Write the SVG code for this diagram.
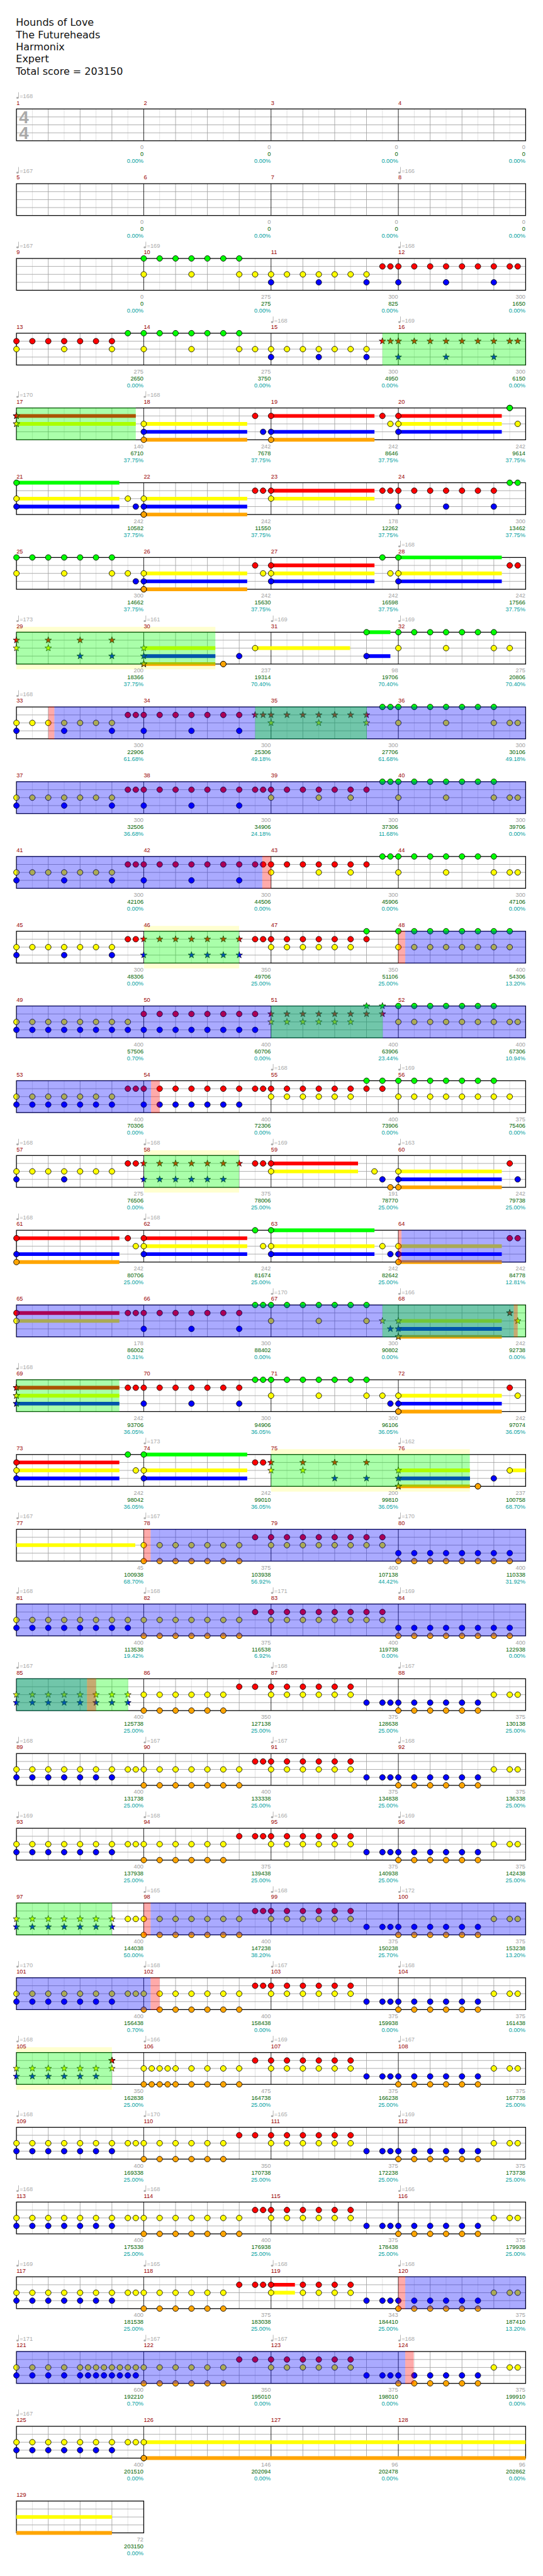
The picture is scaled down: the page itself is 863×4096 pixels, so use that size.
<svg xmlns="http://www.w3.org/2000/svg" width="863" height="4096" viewBox="0 0 863 4096">
<defs>
<style>
.tt{font-family:"DejaVu Sans",sans-serif;font-size:19px;fill:#111}
.mn{font-family:"Liberation Sans",Arial,sans-serif;font-size:11px;fill:#900}
.tp{font-family:"Liberation Sans",Arial,sans-serif;font-size:11px;fill:#aaa}
.s1,.s2,.s3{font-family:"Liberation Sans",Arial,sans-serif;font-size:11px;text-anchor:end}
.s1{fill:#a0a0a0}.s2{fill:#006400}.s3{fill:#00a0a0}
.ts{font-family:"Liberation Sans",Arial,sans-serif;font-size:33px;font-weight:bold;fill:#aaa}
.gl{stroke:#ddd;fill:none}.gm{stroke:#a0a0a0;fill:none}.gk{stroke:#000;fill:none}
.bx{fill:none;stroke:#000;stroke-width:1.5}
.ng,.nr,.ny,.nb,.no,.kg,.kr,.ky,.kb,.ko{fill:none;stroke:none}
.ng{marker-start:url(#mg);marker-mid:url(#mg);marker-end:url(#mg)}
.nr{marker-start:url(#mr);marker-mid:url(#mr);marker-end:url(#mr)}
.ny{marker-start:url(#my);marker-mid:url(#my);marker-end:url(#my)}
.nb{marker-start:url(#mb);marker-mid:url(#mb);marker-end:url(#mb)}
.no{marker-start:url(#mo);marker-mid:url(#mo);marker-end:url(#mo)}
.kg{marker-start:url(#xg);marker-mid:url(#xg);marker-end:url(#xg)}
.kr{marker-start:url(#xr);marker-mid:url(#xr);marker-end:url(#xr)}
.ky{marker-start:url(#xy);marker-mid:url(#xy);marker-end:url(#xy)}
.kb{marker-start:url(#xb);marker-mid:url(#xb);marker-end:url(#xb)}
.ko{marker-start:url(#xo);marker-mid:url(#xo);marker-end:url(#xo)}
.ug,.ur,.uy,.ub,.uo{fill:none;stroke-width:7}
.ug{stroke:#0f0}.ur{stroke:#f00}.uy{stroke:#ff0}.ub{stroke:#00f}.uo{stroke:#ffa500}
.ps{fill:#0f0;fill-opacity:.333}.po{fill:#00f;fill-opacity:.333}.pp{fill:#f00;fill-opacity:.333}
.bn{fill:#ffffd0}
</style>
<path id="sp" d="M8 1.5L9.53 5.9L14.18 5.99L10.47 8.8L11.82 13.26L8 10.6L4.18 13.26L5.53 8.8L1.82 5.99L6.47 5.9Z"/>
<marker id="mg" markerUnits="userSpaceOnUse" markerWidth="16" markerHeight="16" refX="8" refY="8"><circle cx="8" cy="8" r="5.3" fill="#0f0" stroke="#000"/></marker>
<marker id="mr" markerUnits="userSpaceOnUse" markerWidth="16" markerHeight="16" refX="8" refY="8"><circle cx="8" cy="8" r="5.3" fill="#f00" stroke="#000"/></marker>
<marker id="my" markerUnits="userSpaceOnUse" markerWidth="16" markerHeight="16" refX="8" refY="8"><circle cx="8" cy="8" r="5.3" fill="#ff0" stroke="#000"/></marker>
<marker id="mb" markerUnits="userSpaceOnUse" markerWidth="16" markerHeight="16" refX="8" refY="8"><circle cx="8" cy="8" r="5.3" fill="#00f" stroke="#000"/></marker>
<marker id="mo" markerUnits="userSpaceOnUse" markerWidth="16" markerHeight="16" refX="8" refY="8"><circle cx="8" cy="8" r="5.3" fill="#ffa500" stroke="#000"/></marker>
<marker id="xg" markerUnits="userSpaceOnUse" markerWidth="16" markerHeight="16" refX="8" refY="8"><use href="#sp" fill="#0f0" stroke="#000" stroke-width=".8"/></marker>
<marker id="xr" markerUnits="userSpaceOnUse" markerWidth="16" markerHeight="16" refX="8" refY="8"><use href="#sp" fill="#f00" stroke="#000" stroke-width=".8"/></marker>
<marker id="xy" markerUnits="userSpaceOnUse" markerWidth="16" markerHeight="16" refX="8" refY="8"><use href="#sp" fill="#ff0" stroke="#000" stroke-width=".8"/></marker>
<marker id="xb" markerUnits="userSpaceOnUse" markerWidth="16" markerHeight="16" refX="8" refY="8"><use href="#sp" fill="#00f" stroke="#000" stroke-width=".8"/></marker>
<marker id="xo" markerUnits="userSpaceOnUse" markerWidth="16" markerHeight="16" refX="8" refY="8"><use href="#sp" fill="#ffa500" stroke="#000" stroke-width=".8"/></marker>
<g id="st4">
<path class="gl" d="M61 0v60M121 0v60M181 0v60M241 0v60M301 0v60M361 0v60M421 0v60M481 0v60M541 0v60M601 0v60M661 0v60M721 0v60M781 0v60M841 0v60M901 0v60M961 0v60"/>
<path class="gm" d="M31 15H991M31 30H991M31 45H991M91 0v60M151 0v60M211 0v60M331 0v60M391 0v60M451 0v60M571 0v60M631 0v60M691 0v60M811 0v60M871 0v60M931 0v60"/>
<path class="gk" d="M271 0v60M511 0v60M751 0v60"/>
<rect class="bx" x="31" y="0" width="960" height="60"/>
</g>
<g id="st1">
<path class="gl" d="M61 0v60M121 0v60M181 0v60M241 0v60"/>
<path class="gm" d="M31 15H271M31 30H271M31 45H271M91 0v60M151 0v60M211 0v60"/>
<rect class="bx" x="31" y="0" width="240" height="60"/>
</g>
<g id="q" fill="#aaa"><ellipse cx="2" cy="-21" rx="2.2" ry="1.8"/><rect x="3.5" y="-31.5" width="1" height="10.5"/></g>
</defs>
<rect width="863" height="4096" fill="#fff"/>
<g transform="scale(0.843)">
<g id="title">
<text class="tt" x="30" y="49">Hounds of Love</text>
<text class="tt" x="30" y="72">The Futureheads</text>
<text class="tt" x="30" y="95">Harmonix</text>
<text class="tt" x="30" y="118">Expert</text>
<text class="tt" x="30" y="141.5">Total score = 203150</text>
</g>

<g id="row1" transform="translate(0,205.5)">
<use href="#st4"/>
<text class="ts" x="36" y="26.8">4</text><text class="ts" x="36" y="56.8">4</text>
<text class="mn" y="-8"><tspan x="31">1</tspan><tspan x="271">2</tspan><tspan x="511">3</tspan><tspan x="751">4</tspan></text>
<use href="#q" x="31"/><text class="tp" y="-20.5"><tspan x="37">=168</tspan></text>
<text class="s1" y="76"><tspan x="270.5">0</tspan><tspan x="510.5">0</tspan><tspan x="750.5">0</tspan><tspan x="990.5">0</tspan></text>
<text class="s2" y="89"><tspan x="270.5">0</tspan><tspan x="510.5">0</tspan><tspan x="750.5">0</tspan><tspan x="990.5">0</tspan></text>
<text class="s3" y="102"><tspan x="270.5">0.00%</tspan><tspan x="510.5">0.00%</tspan><tspan x="750.5">0.00%</tspan><tspan x="990.5">0.00%</tspan></text>
</g>

<g id="row2" transform="translate(0,346.5)">
<use href="#st4"/>
<text class="mn" y="-8"><tspan x="31">5</tspan><tspan x="271">6</tspan><tspan x="511">7</tspan><tspan x="751">8</tspan></text>
<use href="#q" x="31"/><use href="#q" x="751"/><text class="tp" y="-20.5"><tspan x="37">=167</tspan><tspan x="757">=166</tspan></text>
<text class="s1" y="76"><tspan x="270.5">0</tspan><tspan x="510.5">0</tspan><tspan x="750.5">0</tspan><tspan x="990.5">0</tspan></text>
<text class="s2" y="89"><tspan x="270.5">0</tspan><tspan x="510.5">0</tspan><tspan x="750.5">0</tspan><tspan x="990.5">0</tspan></text>
<text class="s3" y="102"><tspan x="270.5">0.00%</tspan><tspan x="510.5">0.00%</tspan><tspan x="750.5">0.00%</tspan><tspan x="990.5">0.00%</tspan></text>
</g>

<g id="row3" transform="translate(0,487.5)">
<use href="#st4"/>
<path class="ng" d="M271 0H301H331H361H391H421H451"/>
<path class="nr" d="M721 15H736H751H781H811H841H871H901H931H961H976"/>
<path class="ny" d="M271 30H361H451H481H511H541H571H601H631H661H691"/>
<path class="nb" d="M511 45H601H691H751H841H931"/>
<text class="mn" y="-8"><tspan x="31">9</tspan><tspan x="271">10</tspan><tspan x="511">11</tspan><tspan x="751">12</tspan></text>
<use href="#q" x="31"/><use href="#q" x="271"/><use href="#q" x="751"/><text class="tp" y="-20.5"><tspan x="37">=167</tspan><tspan x="277">=169</tspan><tspan x="757">=168</tspan></text>
<text class="s1" y="76"><tspan x="270.5">0</tspan><tspan x="510.5">275</tspan><tspan x="750.5">300</tspan><tspan x="990.5">300</tspan></text>
<text class="s2" y="89"><tspan x="270.5">0</tspan><tspan x="510.5">275</tspan><tspan x="750.5">825</tspan><tspan x="990.5">1650</tspan></text>
<text class="s3" y="102"><tspan x="270.5">0.00%</tspan><tspan x="510.5">0.00%</tspan><tspan x="750.5">0.00%</tspan><tspan x="990.5">0.00%</tspan></text>
</g>

<g id="row4" transform="translate(0,628.5)">
<use href="#st4"/>
<path class="ng" d="M241 0H271H301H331H361H391H421H451"/>
<path class="nr" d="M31 15H61H91H121H151H181H211"/>
<path class="ny" d="M31 30H121H211H271H361H451H481H511H541H571H601H631H661H691"/>
<path class="nb" d="M511 45H601H691"/>
<path class="kr" d="M721 15H736H751H781H811H841H871H901H931H961H976"/>
<path class="kb" d="M751 45H841H931"/>
<rect class="ps" x="721" y="-0.75" width="270" height="61.5"/>
<text class="mn" y="-8"><tspan x="31">13</tspan><tspan x="271">14</tspan><tspan x="511">15</tspan><tspan x="751">16</tspan></text>
<use href="#q" x="511"/><use href="#q" x="751"/><text class="tp" y="-20.5"><tspan x="517">=168</tspan><tspan x="757">=169</tspan></text>
<text class="s1" y="76"><tspan x="270.5">275</tspan><tspan x="510.5">275</tspan><tspan x="750.5">300</tspan><tspan x="990.5">300</tspan></text>
<text class="s2" y="89"><tspan x="270.5">2650</tspan><tspan x="510.5">3750</tspan><tspan x="750.5">4950</tspan><tspan x="990.5">6150</tspan></text>
<text class="s3" y="102"><tspan x="270.5">0.00%</tspan><tspan x="510.5">0.00%</tspan><tspan x="750.5">0.00%</tspan><tspan x="990.5">0.00%</tspan></text>
</g>

<g id="row5" transform="translate(0,769.5)">
<use href="#st4"/>
<path class="ur" d="M31 15H256M511 15H706M751 15H946"/>
<path class="uy" d="M31 30H256M271 30H466M751 30H946"/>
<path class="ub" d="M271 45H466M511 45H706M751 45H946"/>
<path class="uo" d="M271 60H466M511 60H706"/>
<path class="kr" d="M31 15h0"/><path class="ky" d="M31 30h0"/>
<path class="ng" d="M961 0h0"/>
<path class="nr" d="M481 15H511H721H751"/>
<path class="ny" d="M271 30H736H751H976"/>
<path class="nb" d="M271 45H496H511H751"/>
<path class="no" d="M271 60H511"/>
<rect class="ps" x="31" y="-0.75" width="225" height="61.5"/>
<text class="mn" y="-8"><tspan x="31">17</tspan><tspan x="271">18</tspan><tspan x="511">19</tspan><tspan x="751">20</tspan></text>
<use href="#q" x="31"/><use href="#q" x="271"/><text class="tp" y="-20.5"><tspan x="37">=170</tspan><tspan x="277">=168</tspan></text>
<text class="s1" y="76"><tspan x="270.5">140</tspan><tspan x="510.5">242</tspan><tspan x="750.5">242</tspan><tspan x="990.5">242</tspan></text>
<text class="s2" y="89"><tspan x="270.5">6710</tspan><tspan x="510.5">7678</tspan><tspan x="750.5">8646</tspan><tspan x="990.5">9614</tspan></text>
<text class="s3" y="102"><tspan x="270.5">37.75%</tspan><tspan x="510.5">37.75%</tspan><tspan x="750.5">37.75%</tspan><tspan x="990.5">37.75%</tspan></text>
</g>

<g id="row6" transform="translate(0,910.5)">
<use href="#st4"/>
<path class="ug" d="M31 0H225"/>
<path class="ur" d="M511 15H706"/>
<path class="uy" d="M31 30H225M271 30H466M511 30H706"/>
<path class="ub" d="M31 45H225M271 45H466"/>
<path class="uo" d="M271 60H466"/>
<path class="ng" d="M31 0H961H976"/>
<path class="nr" d="M481 15H496H511H721H736H751H781H811H841H871H901H931"/>
<path class="ny" d="M31 30H241H271H511"/>
<path class="nb" d="M31 45H256H271H751H841H931"/>
<path class="no" d="M271 60h0"/>
<text class="mn" y="-8"><tspan x="31">21</tspan><tspan x="271">22</tspan><tspan x="511">23</tspan><tspan x="751">24</tspan></text>
<text class="s1" y="76"><tspan x="270.5">242</tspan><tspan x="510.5">242</tspan><tspan x="750.5">178</tspan><tspan x="990.5">300</tspan></text>
<text class="s2" y="89"><tspan x="270.5">10582</tspan><tspan x="510.5">11550</tspan><tspan x="750.5">12262</tspan><tspan x="990.5">13462</tspan></text>
<text class="s3" y="102"><tspan x="270.5">37.75%</tspan><tspan x="510.5">37.75%</tspan><tspan x="750.5">37.75%</tspan><tspan x="990.5">37.75%</tspan></text>
</g>

<g id="row7" transform="translate(0,1051.5)">
<use href="#st4"/>
<path class="ug" d="M751 0H946"/>
<path class="ur" d="M511 15H706"/>
<path class="uy" d="M271 30H466M511 30H706M751 30H946"/>
<path class="ub" d="M271 45H466M511 45H706M751 45H946"/>
<path class="uo" d="M271 60H466"/>
<path class="ng" d="M31 0H61H91H121H151H181H211H721H751"/>
<path class="nr" d="M481 15H511H961H976"/>
<path class="ny" d="M31 30H121H211H241H271H496H511H736H751"/>
<path class="nb" d="M256 45H271H511H751"/>
<path class="no" d="M271 60h0"/>
<text class="mn" y="-8"><tspan x="31">25</tspan><tspan x="271">26</tspan><tspan x="511">27</tspan><tspan x="751">28</tspan></text>
<use href="#q" x="751"/><text class="tp" y="-20.5"><tspan x="757">=168</tspan></text>
<text class="s1" y="76"><tspan x="270.5">300</tspan><tspan x="510.5">242</tspan><tspan x="750.5">242</tspan><tspan x="990.5">242</tspan></text>
<text class="s2" y="89"><tspan x="270.5">14662</tspan><tspan x="510.5">15630</tspan><tspan x="750.5">16598</tspan><tspan x="990.5">17566</tspan></text>
<text class="s3" y="102"><tspan x="270.5">37.75%</tspan><tspan x="510.5">37.75%</tspan><tspan x="750.5">37.75%</tspan><tspan x="990.5">37.75%</tspan></text>
</g>

<g id="row8" transform="translate(0,1192.5)">
<path class="bn" d="M31 -10h375v10h-375zM31 60h375v10h-375z"/>
<use href="#st4"/>
<path class="ug" d="M691 0H736"/>
<path class="uy" d="M271 30H406M481 30H660"/>
<path class="ub" d="M271 45H406M691 45H736"/>
<path class="uo" d="M271 60H406"/>
<path class="kr" d="M31 15H91H151H211"/>
<path class="ky" d="M31 30H91H271"/>
<path class="kb" d="M151 45H211H271"/>
<path class="ko" d="M271 60h0"/>
<path class="ng" d="M691 0H751H781H811H841H871H901H931"/>
<path class="ny" d="M481 30H751H841H931H961"/>
<path class="nb" d="M451 45H691"/>
<path class="no" d="M421 60h0"/>
<rect class="ps" x="31" y="-0.75" width="375" height="61.5"/>
<text class="mn" y="-8"><tspan x="31">29</tspan><tspan x="271">30</tspan><tspan x="511">31</tspan><tspan x="751">32</tspan></text>
<use href="#q" x="31"/><use href="#q" x="271"/><use href="#q" x="511"/><use href="#q" x="751"/><text class="tp" y="-20.5"><tspan x="37">=173</tspan><tspan x="277">=161</tspan><tspan x="517">=169</tspan><tspan x="757">=169</tspan></text>
<text class="s1" y="76"><tspan x="270.5">200</tspan><tspan x="510.5">237</tspan><tspan x="750.5">98</tspan><tspan x="990.5">275</tspan></text>
<text class="s2" y="89"><tspan x="270.5">18366</tspan><tspan x="510.5">19314</tspan><tspan x="750.5">19706</tspan><tspan x="990.5">20806</tspan></text>
<text class="s3" y="102"><tspan x="270.5">37.75%</tspan><tspan x="510.5">70.40%</tspan><tspan x="750.5">70.40%</tspan><tspan x="990.5">70.40%</tspan></text>
</g>

<g id="row9" transform="translate(0,1333.5)">
<use href="#st4"/>
<path class="ng" d="M721 0H736H751H781H811H841H871H901H931"/>
<path class="nr" d="M241 15H256H271H301H331H361H391H421H451"/>
<path class="ny" d="M31 30H61H91H121H151H181H211H751H841H931H961H976"/>
<path class="nb" d="M31 45H121H211H271H361H451"/>
<path class="kr" d="M481 15H496H511H541H571H601H631H661H691"/>
<path class="ky" d="M511 30H601H691"/>
<rect class="pp" x="91.4" y="-0.75" width="11.1" height="61.5"/>
<rect class="po" x="102.5" y="-0.75" width="888.5" height="61.5"/>
<rect class="ps" x="481" y="-0.75" width="210.7" height="61.5"/>
<text class="mn" y="-8"><tspan x="31">33</tspan><tspan x="271">34</tspan><tspan x="511">35</tspan><tspan x="751">36</tspan></text>
<use href="#q" x="31"/><text class="tp" y="-20.5"><tspan x="37">=168</tspan></text>
<text class="s1" y="76"><tspan x="270.5">300</tspan><tspan x="510.5">300</tspan><tspan x="750.5">300</tspan><tspan x="990.5">300</tspan></text>
<text class="s2" y="89"><tspan x="270.5">22906</tspan><tspan x="510.5">25306</tspan><tspan x="750.5">27706</tspan><tspan x="990.5">30106</tspan></text>
<text class="s3" y="102"><tspan x="270.5">61.68%</tspan><tspan x="510.5">49.18%</tspan><tspan x="750.5">61.68%</tspan><tspan x="990.5">49.18%</tspan></text>
</g>

<g id="row10" transform="translate(0,1474.5)">
<use href="#st4"/>
<path class="ng" d="M721 0H736H751H781H811H841H871H901H931"/>
<path class="nr" d="M241 15H256H271H301H331H361H391H421H451H481H496H511H541H571H601H631H661H691"/>
<path class="ny" d="M31 30H61H91H121H151H181H211H511H601H661H751H841H931H961H976"/>
<path class="nb" d="M31 45H121H211H271H361H451"/>
<rect class="po" x="31" y="-0.75" width="960" height="61.5"/>
<text class="mn" y="-8"><tspan x="31">37</tspan><tspan x="271">38</tspan><tspan x="511">39</tspan><tspan x="751">40</tspan></text>
<text class="s1" y="76"><tspan x="270.5">300</tspan><tspan x="510.5">300</tspan><tspan x="750.5">300</tspan><tspan x="990.5">300</tspan></text>
<text class="s2" y="89"><tspan x="270.5">32506</tspan><tspan x="510.5">34906</tspan><tspan x="750.5">37306</tspan><tspan x="990.5">39706</tspan></text>
<text class="s3" y="102"><tspan x="270.5">36.68%</tspan><tspan x="510.5">24.18%</tspan><tspan x="750.5">11.68%</tspan><tspan x="990.5">0.00%</tspan></text>
</g>

<g id="row11" transform="translate(0,1615.5)">
<use href="#st4"/>
<path class="ng" d="M721 0H736H751H781H811H841H871H901H931"/>
<path class="nr" d="M241 15H256H271H301H331H361H391H421H451H481H496H511H541H571H601H631H661H691"/>
<path class="ny" d="M31 30H61H91H121H151H181H211H511H601H661H751H841H931H961H976"/>
<path class="nb" d="M31 45H121H211H271H361H451"/>
<rect class="po" x="31" y="-0.75" width="463.5" height="61.5"/>
<rect class="pp" x="494.5" y="-0.75" width="16.5" height="61.5"/>
<text class="mn" y="-8"><tspan x="31">41</tspan><tspan x="271">42</tspan><tspan x="511">43</tspan><tspan x="751">44</tspan></text>
<text class="s1" y="76"><tspan x="270.5">300</tspan><tspan x="510.5">300</tspan><tspan x="750.5">300</tspan><tspan x="990.5">300</tspan></text>
<text class="s2" y="89"><tspan x="270.5">42106</tspan><tspan x="510.5">44506</tspan><tspan x="750.5">45906</tspan><tspan x="990.5">47106</tspan></text>
<text class="s3" y="102"><tspan x="270.5">0.00%</tspan><tspan x="510.5">0.00%</tspan><tspan x="750.5">0.00%</tspan><tspan x="990.5">0.00%</tspan></text>
</g>

<g id="row12" transform="translate(0,1756.5)">
<path class="bn" d="M271.7 -10h179v10h-179zM271.7 60h179v10h-179z"/>
<use href="#st4"/>
<path class="ng" d="M691 0H751H781H811H841H871H901H931H961"/>
<path class="nr" d="M241 15H256H481H496H511H541H571H601H631H661H691"/>
<path class="ny" d="M31 30H61H91H121H151H181H211H511H541H571H601H631H661H751H781H811H841H871H901H931H961"/>
<path class="nb" d="M31 45H121H211"/>
<path class="kr" d="M271 15H301H331H361H391H421H451"/>
<path class="kb" d="M271 45H361H391H421H451"/>
<rect class="ps" x="271.7" y="-0.75" width="179" height="61.5"/>
<rect class="pp" x="751" y="-0.75" width="13" height="61.5"/>
<rect class="po" x="764" y="-0.75" width="227" height="61.5"/>
<text class="mn" y="-8"><tspan x="31">45</tspan><tspan x="271">46</tspan><tspan x="511">47</tspan><tspan x="751">48</tspan></text>
<text class="s1" y="76"><tspan x="270.5">300</tspan><tspan x="510.5">350</tspan><tspan x="750.5">350</tspan><tspan x="990.5">400</tspan></text>
<text class="s2" y="89"><tspan x="270.5">48306</tspan><tspan x="510.5">49706</tspan><tspan x="750.5">51106</tspan><tspan x="990.5">54306</tspan></text>
<text class="s3" y="102"><tspan x="270.5">0.00%</tspan><tspan x="510.5">25.00%</tspan><tspan x="750.5">25.00%</tspan><tspan x="990.5">13.20%</tspan></text>
</g>

<g id="row13" transform="translate(0,1897.5)">
<use href="#st4"/>
<path class="ng" d="M751 0H781H811H841H871H901H931"/>
<path class="nr" d="M271 15H301H331H361H391H421H451H481"/>
<path class="ny" d="M31 30H61H91H121H151H181H211H241H751H781H811H841H871H901H931H961H976"/>
<path class="nb" d="M31 45H61H91H121H151H181H211H241H271H301H331H361H391H421H451H481"/>
<path class="kr" d="M511 15H541H571H601H631H661H691H721"/>
<path class="ky" d="M511 30H541H571H601H631H661"/>
<path class="kg" d="M691 0H721"/>
<rect class="po" x="31" y="-0.75" width="960" height="61.5"/>
<rect class="ps" x="511" y="-0.75" width="210.7" height="61.5"/>
<text class="mn" y="-8"><tspan x="31">49</tspan><tspan x="271">50</tspan><tspan x="511">51</tspan><tspan x="751">52</tspan></text>
<text class="s1" y="76"><tspan x="270.5">400</tspan><tspan x="510.5">400</tspan><tspan x="750.5">400</tspan><tspan x="990.5">400</tspan></text>
<text class="s2" y="89"><tspan x="270.5">57506</tspan><tspan x="510.5">60706</tspan><tspan x="750.5">63906</tspan><tspan x="990.5">67306</tspan></text>
<text class="s3" y="102"><tspan x="270.5">0.70%</tspan><tspan x="510.5">0.00%</tspan><tspan x="750.5">23.44%</tspan><tspan x="990.5">10.94%</tspan></text>
</g>

<g id="row14" transform="translate(0,2038.5)">
<use href="#st4"/>
<path class="ng" d="M691 0H721H751H781H811H841H871H901H931"/>
<path class="nr" d="M241 15H256H271H301H331H361H391H421H451H481H496H511H541H571H601H631H661H691H721"/>
<path class="ny" d="M31 30H61H91H121H151H181H211H511H541H571H601H631H661H751H781H811H841H871H901H931H961"/>
<path class="nb" d="M31 45H61H91H121H151H181H211H271H301H331H361H391H421H451"/>
<rect class="po" x="31" y="-0.75" width="253.8" height="61.5"/>
<rect class="pp" x="284.8" y="-0.75" width="16.2" height="61.5"/>
<text class="mn" y="-8"><tspan x="31">53</tspan><tspan x="271">54</tspan><tspan x="511">55</tspan><tspan x="751">56</tspan></text>
<use href="#q" x="511"/><use href="#q" x="751"/><text class="tp" y="-20.5"><tspan x="517">=168</tspan><tspan x="757">=169</tspan></text>
<text class="s1" y="76"><tspan x="270.5">400</tspan><tspan x="510.5">400</tspan><tspan x="750.5">400</tspan><tspan x="990.5">375</tspan></text>
<text class="s2" y="89"><tspan x="270.5">70306</tspan><tspan x="510.5">72306</tspan><tspan x="750.5">73906</tspan><tspan x="990.5">75406</tspan></text>
<text class="s3" y="102"><tspan x="270.5">0.00%</tspan><tspan x="510.5">0.00%</tspan><tspan x="750.5">0.00%</tspan><tspan x="990.5">0.00%</tspan></text>
</g>

<g id="row15" transform="translate(0,2179.5)">
<path class="bn" d="M271.7 -10h179v10h-179zM271.7 60h179v10h-179z"/>
<use href="#st4"/>
<path class="ur" d="M511 15H675"/>
<path class="uy" d="M511 30H675M751 30H946"/>
<path class="ub" d="M751 45H946"/>
<path class="uo" d="M751 60H946"/>
<path class="nr" d="M241 15H256H481H496H511H961"/>
<path class="ny" d="M31 30H61H91H121H151H181H211H511H706H751"/>
<path class="nb" d="M31 45H121H721H751H976"/>
<path class="no" d="M736 60H751"/>
<path class="kr" d="M271 15H301H331H361H391H421H451"/>
<path class="kb" d="M271 45H301H331H361H391H421"/>
<rect class="ps" x="271.7" y="-0.75" width="179" height="61.5"/>
<text class="mn" y="-8"><tspan x="31">57</tspan><tspan x="271">58</tspan><tspan x="511">59</tspan><tspan x="751">60</tspan></text>
<use href="#q" x="31"/><use href="#q" x="271"/><use href="#q" x="511"/><use href="#q" x="751"/><text class="tp" y="-20.5"><tspan x="37">=168</tspan><tspan x="277">=168</tspan><tspan x="517">=169</tspan><tspan x="757">=163</tspan></text>
<text class="s1" y="76"><tspan x="270.5">275</tspan><tspan x="510.5">375</tspan><tspan x="750.5">191</tspan><tspan x="990.5">242</tspan></text>
<text class="s2" y="89"><tspan x="270.5">76506</tspan><tspan x="510.5">78006</tspan><tspan x="750.5">78770</tspan><tspan x="990.5">79738</tspan></text>
<text class="s3" y="102"><tspan x="270.5">0.00%</tspan><tspan x="510.5">25.00%</tspan><tspan x="750.5">25.00%</tspan><tspan x="990.5">25.00%</tspan></text>
</g>

<g id="row16" transform="translate(0,2320.5)">
<use href="#st4"/>
<path class="ug" d="M511 0H706"/>
<path class="ur" d="M31 15H225M271 15H466"/>
<path class="uy" d="M271 30H466M511 30H706M751 30H946"/>
<path class="ub" d="M31 45H225M271 45H466M511 45H706M751 45H946"/>
<path class="uo" d="M31 60H225M751 60H946"/>
<path class="ng" d="M481 0H511"/>
<path class="nr" d="M31 15H241H271H961H976"/>
<path class="ny" d="M256 30H271H496H511H721H751"/>
<path class="nb" d="M31 45H271H511H736H751"/>
<path class="no" d="M31 60H751"/>
<rect class="pp" x="751" y="-0.75" width="6" height="61.5"/>
<rect class="po" x="757" y="-0.75" width="234" height="61.5"/>
<text class="mn" y="-8"><tspan x="31">61</tspan><tspan x="271">62</tspan><tspan x="511">63</tspan><tspan x="751">64</tspan></text>
<use href="#q" x="31"/><use href="#q" x="271"/><text class="tp" y="-20.5"><tspan x="37">=168</tspan><tspan x="277">=168</tspan></text>
<text class="s1" y="76"><tspan x="270.5">242</tspan><tspan x="510.5">242</tspan><tspan x="750.5">242</tspan><tspan x="990.5">242</tspan></text>
<text class="s2" y="89"><tspan x="270.5">80706</tspan><tspan x="510.5">81674</tspan><tspan x="750.5">82642</tspan><tspan x="990.5">84778</tspan></text>
<text class="s3" y="102"><tspan x="270.5">25.00%</tspan><tspan x="510.5">25.00%</tspan><tspan x="750.5">25.00%</tspan><tspan x="990.5">12.81%</tspan></text>
</g>

<g id="row17" transform="translate(0,2461.5)">
<use href="#st4"/>
<path class="ur" d="M31 15H225"/>
<path class="uy" d="M31 30H225M751 30H946"/>
<path class="ub" d="M751 45H946"/>
<path class="uo" d="M751 60H946"/>
<path class="ng" d="M481 0H496H511H541H571H601H631H661H691"/>
<path class="nr" d="M31 15H241H256H271H301H331H361H391H421H451"/>
<path class="ny" d="M31 30H511H601H691"/>
<path class="nb" d="M271 45H361H451"/>
<path class="ky" d="M721 30H751H976"/>
<path class="kb" d="M736 45H751"/>
<path class="ko" d="M751 60h0"/>
<path class="kr" d="M961 15h0"/>
<rect class="po" x="31" y="-0.75" width="937.6" height="61.5"/>
<rect class="ps" x="721" y="-0.75" width="270" height="61.5"/>
<rect class="pp" x="968.6" y="-0.75" width="7.4" height="61.5"/>
<text class="mn" y="-8"><tspan x="31">65</tspan><tspan x="271">66</tspan><tspan x="511">67</tspan><tspan x="751">68</tspan></text>
<use href="#q" x="511"/><use href="#q" x="751"/><text class="tp" y="-20.5"><tspan x="517">=170</tspan><tspan x="757">=166</tspan></text>
<text class="s1" y="76"><tspan x="270.5">178</tspan><tspan x="510.5">300</tspan><tspan x="750.5">300</tspan><tspan x="990.5">242</tspan></text>
<text class="s2" y="89"><tspan x="270.5">86002</tspan><tspan x="510.5">88402</tspan><tspan x="750.5">90802</tspan><tspan x="990.5">92738</tspan></text>
<text class="s3" y="102"><tspan x="270.5">0.31%</tspan><tspan x="510.5">0.00%</tspan><tspan x="750.5">0.00%</tspan><tspan x="990.5">0.00%</tspan></text>
</g>

<g id="row18" transform="translate(0,2602.5)">
<use href="#st4"/>
<path class="ur" d="M31 15H225"/>
<path class="uy" d="M31 30H225M751 30H946"/>
<path class="ub" d="M31 45H225M751 45H946"/>
<path class="uo" d="M751 60H946"/>
<path class="kr" d="M31 15h0"/><path class="ky" d="M31 30h0"/><path class="kb" d="M31 45h0"/>
<path class="ng" d="M481 0H496H511H541H571H601H631H661H691"/>
<path class="nr" d="M241 15H256H271H301H331H361H391H421H451H961"/>
<path class="ny" d="M511 30H601H691H721H751H976"/>
<path class="nb" d="M271 45H361H451H736H751"/>
<path class="no" d="M751 60h0"/>
<rect class="ps" x="31" y="-0.75" width="194" height="61.5"/>
<text class="mn" y="-8"><tspan x="31">69</tspan><tspan x="271">70</tspan><tspan x="511">71</tspan><tspan x="751">72</tspan></text>
<use href="#q" x="31"/><text class="tp" y="-20.5"><tspan x="37">=168</tspan></text>
<text class="s1" y="76"><tspan x="270.5">242</tspan><tspan x="510.5">300</tspan><tspan x="750.5">300</tspan><tspan x="990.5">242</tspan></text>
<text class="s2" y="89"><tspan x="270.5">93706</tspan><tspan x="510.5">94906</tspan><tspan x="750.5">96106</tspan><tspan x="990.5">97074</tspan></text>
<text class="s3" y="102"><tspan x="270.5">36.05%</tspan><tspan x="510.5">36.05%</tspan><tspan x="750.5">36.05%</tspan><tspan x="990.5">36.05%</tspan></text>
</g>

<g id="row19" transform="translate(0,2743.5)">
<path class="bn" d="M511 -10h374.7v10h-374.7zM511 60h374.7v10h-374.7z"/>
<use href="#st4"/>
<path class="ug" d="M271 0H466"/>
<path class="ur" d="M31 15H225"/>
<path class="uy" d="M31 30H225M271 30H466M751 30H886M961 30H991"/>
<path class="ub" d="M31 45H225M271 45H466M751 45H886"/>
<path class="uo" d="M751 60H886"/>
<path class="ng" d="M241 0H271"/>
<path class="nr" d="M31 15H481H496"/>
<path class="ny" d="M31 30H256H271H961"/>
<path class="nb" d="M31 45H271H931"/>
<path class="no" d="M901 60h0"/>
<path class="kr" d="M511 15H571H631H691"/>
<path class="ky" d="M511 30H571H751"/>
<path class="kb" d="M631 45H691H751"/>
<path class="ko" d="M751 60h0"/>
<rect class="ps" x="511" y="-0.75" width="374.7" height="61.5"/>
<text class="mn" y="-8"><tspan x="31">73</tspan><tspan x="271">74</tspan><tspan x="511">75</tspan><tspan x="751">76</tspan></text>
<use href="#q" x="271"/><use href="#q" x="751"/><text class="tp" y="-20.5"><tspan x="277">=173</tspan><tspan x="757">=162</tspan></text>
<text class="s1" y="76"><tspan x="270.5">242</tspan><tspan x="510.5">242</tspan><tspan x="750.5">200</tspan><tspan x="990.5">237</tspan></text>
<text class="s2" y="89"><tspan x="270.5">98042</tspan><tspan x="510.5">99010</tspan><tspan x="750.5">99810</tspan><tspan x="990.5">100758</tspan></text>
<text class="s3" y="102"><tspan x="270.5">36.05%</tspan><tspan x="510.5">36.05%</tspan><tspan x="750.5">36.05%</tspan><tspan x="990.5">68.70%</tspan></text>
</g>

<g id="row20" transform="translate(0,2884.5)">
<use href="#st4"/>
<path class="uy" d="M31 30H255"/>
<path class="nr" d="M481 15H511H541H571H601H631H661H691H721"/>
<path class="ny" d="M271 30H301H331H361H391H421H451H511H541H571H601H631H661H691H721"/>
<path class="nb" d="M751 45H781H811H841H871H901H931H961"/>
<path class="no" d="M271 60H301H331H361H391H421H451H751H781H811H841H871H901H931H961"/>
<rect class="pp" x="271" y="-0.75" width="13" height="61.5"/>
<rect class="po" x="284" y="-0.75" width="707" height="61.5"/>
<text class="mn" y="-8"><tspan x="31">77</tspan><tspan x="271">78</tspan><tspan x="511">79</tspan><tspan x="751">80</tspan></text>
<use href="#q" x="31"/><use href="#q" x="271"/><use href="#q" x="751"/><text class="tp" y="-20.5"><tspan x="37">=167</tspan><tspan x="277">=167</tspan><tspan x="757">=170</tspan></text>
<text class="s1" y="76"><tspan x="270.5">45</tspan><tspan x="510.5">375</tspan><tspan x="750.5">400</tspan><tspan x="990.5">400</tspan></text>
<text class="s2" y="89"><tspan x="270.5">100938</tspan><tspan x="510.5">103938</tspan><tspan x="750.5">107138</tspan><tspan x="990.5">110338</tspan></text>
<text class="s3" y="102"><tspan x="270.5">68.70%</tspan><tspan x="510.5">56.92%</tspan><tspan x="750.5">44.42%</tspan><tspan x="990.5">31.92%</tspan></text>
</g>

<g id="row21" transform="translate(0,3025.5)">
<use href="#st4"/>
<path class="nr" d="M481 15H511H541H571H601H631H661H691H721"/>
<path class="ny" d="M31 30H61H91H121H151H181H211H241H271H301H331H361H391H421H451H511H541H571H601H631H661H691H721"/>
<path class="nb" d="M31 45H61H91H121H151H181H211H241H751H781H811H841H871H901H931H961"/>
<path class="no" d="M271 60H301H331H361H391H421H451H751H781H811H841H871H901H931H961"/>
<rect class="po" x="31" y="-0.75" width="960" height="61.5"/>
<text class="mn" y="-8"><tspan x="31">81</tspan><tspan x="271">82</tspan><tspan x="511">83</tspan><tspan x="751">84</tspan></text>
<use href="#q" x="31"/><use href="#q" x="271"/><use href="#q" x="511"/><use href="#q" x="751"/><text class="tp" y="-20.5"><tspan x="37">=168</tspan><tspan x="277">=168</tspan><tspan x="517">=171</tspan><tspan x="757">=169</tspan></text>
<text class="s1" y="76"><tspan x="270.5">400</tspan><tspan x="510.5">375</tspan><tspan x="750.5">400</tspan><tspan x="990.5">400</tspan></text>
<text class="s2" y="89"><tspan x="270.5">113538</tspan><tspan x="510.5">116538</tspan><tspan x="750.5">119738</tspan><tspan x="990.5">122938</tspan></text>
<text class="s3" y="102"><tspan x="270.5">19.42%</tspan><tspan x="510.5">6.92%</tspan><tspan x="750.5">0.00%</tspan><tspan x="990.5">0.00%</tspan></text>
</g>

<g id="row22" transform="translate(0,3166.5)">
<use href="#st4"/>
<path class="ky" d="M31 30H61H91H121H151H181H211H241"/>
<path class="kb" d="M31 45H61H91H121H151H181H211H241"/>
<path class="nr" d="M451 15H481H511H541H571H601H631H661"/>
<path class="ny" d="M271 30H301H331H361H391H421H511H541H571H601H631H661H931H961H976"/>
<path class="nb" d="M691 45H721H736H751H781H811H841H871H901"/>
<path class="no" d="M271 60H301H331H361H391H421H751H781H811H841H871H901"/>
<rect class="po" x="31" y="-0.75" width="133" height="61.5"/>
<rect class="ps" x="31" y="-0.75" width="210.7" height="61.5"/>
<rect class="pp" x="164" y="-0.75" width="17" height="61.5"/>
<text class="mn" y="-8"><tspan x="31">85</tspan><tspan x="271">86</tspan><tspan x="511">87</tspan><tspan x="751">88</tspan></text>
<use href="#q" x="31"/><use href="#q" x="511"/><use href="#q" x="751"/><text class="tp" y="-20.5"><tspan x="37">=167</tspan><tspan x="517">=168</tspan><tspan x="757">=167</tspan></text>
<text class="s1" y="76"><tspan x="270.5">400</tspan><tspan x="510.5">350</tspan><tspan x="750.5">375</tspan><tspan x="990.5">375</tspan></text>
<text class="s2" y="89"><tspan x="270.5">125738</tspan><tspan x="510.5">127138</tspan><tspan x="750.5">128638</tspan><tspan x="990.5">130138</tspan></text>
<text class="s3" y="102"><tspan x="270.5">25.00%</tspan><tspan x="510.5">25.00%</tspan><tspan x="750.5">25.00%</tspan><tspan x="990.5">25.00%</tspan></text>
</g>

<g id="row23" transform="translate(0,3307.5)">
<use href="#st4"/>
<path class="nr" d="M481 15H496H511H541H571H601H631H661"/>
<path class="ny" d="M31 30H61H91H121H151H181H211H241H256H271H301H331H361H391H421H451H511H541H571H601H631H661H931H961H976"/>
<path class="nb" d="M31 45H61H91H121H151H181H211H691H721H736H751H781H811H841H871H901"/>
<path class="no" d="M271 60H301H331H361H391H421H451H751H781H811H841H871H901"/>
<text class="mn" y="-8"><tspan x="31">89</tspan><tspan x="271">90</tspan><tspan x="511">91</tspan><tspan x="751">92</tspan></text>
<use href="#q" x="31"/><use href="#q" x="271"/><use href="#q" x="511"/><use href="#q" x="751"/><text class="tp" y="-20.5"><tspan x="37">=168</tspan><tspan x="277">=167</tspan><tspan x="517">=167</tspan><tspan x="757">=168</tspan></text>
<text class="s1" y="76"><tspan x="270.5">400</tspan><tspan x="510.5">400</tspan><tspan x="750.5">375</tspan><tspan x="990.5">375</tspan></text>
<text class="s2" y="89"><tspan x="270.5">131738</tspan><tspan x="510.5">133338</tspan><tspan x="750.5">134838</tspan><tspan x="990.5">136338</tspan></text>
<text class="s3" y="102"><tspan x="270.5">25.00%</tspan><tspan x="510.5">25.00%</tspan><tspan x="750.5">25.00%</tspan><tspan x="990.5">25.00%</tspan></text>
</g>

<g id="row24" transform="translate(0,3448.5)">
<use href="#st4"/>
<path class="nr" d="M451 15H481H496H511H541H571H601H631H661"/>
<path class="ny" d="M31 30H61H91H121H151H181H211H241H256H271H301H331H361H391H421H511H541H571H601H631H661H931H961H976"/>
<path class="nb" d="M31 45H61H91H121H151H181H211H691H721H736H751H781H811H841H871H901"/>
<path class="no" d="M271 60H301H331H361H391H421H751H781H811H841H871H901"/>
<text class="mn" y="-8"><tspan x="31">93</tspan><tspan x="271">94</tspan><tspan x="511">95</tspan><tspan x="751">96</tspan></text>
<use href="#q" x="31"/><use href="#q" x="271"/><use href="#q" x="511"/><use href="#q" x="751"/><text class="tp" y="-20.5"><tspan x="37">=169</tspan><tspan x="277">=168</tspan><tspan x="517">=166</tspan><tspan x="757">=169</tspan></text>
<text class="s1" y="76"><tspan x="270.5">400</tspan><tspan x="510.5">375</tspan><tspan x="750.5">375</tspan><tspan x="990.5">375</tspan></text>
<text class="s2" y="89"><tspan x="270.5">137938</tspan><tspan x="510.5">139438</tspan><tspan x="750.5">140938</tspan><tspan x="990.5">142438</tspan></text>
<text class="s3" y="102"><tspan x="270.5">25.00%</tspan><tspan x="510.5">25.00%</tspan><tspan x="750.5">25.00%</tspan><tspan x="990.5">25.00%</tspan></text>
</g>

<g id="row25" transform="translate(0,3589.5)">
<use href="#st4"/>
<path class="ky" d="M31 30H61H91H121H151H181H211"/>
<path class="kb" d="M31 45H61H91H121H151H181H211"/>
<path class="nr" d="M481 15H496H511H541H571H601H631H661"/>
<path class="ny" d="M241 30H256H271H301H331H361H391H421H451H511H541H571H601H631H661H931H961H976"/>
<path class="nb" d="M691 45H721H736H751H781H811H841H871H901"/>
<path class="no" d="M271 60H301H331H361H391H421H451H751H781H811H841H871H901"/>
<rect class="ps" x="31" y="-0.75" width="180" height="61.5"/>
<rect class="pp" x="271" y="-0.75" width="13" height="61.5"/>
<rect class="po" x="284" y="-0.75" width="707" height="61.5"/>
<text class="mn" y="-8"><tspan x="31">97</tspan><tspan x="271">98</tspan><tspan x="511">99</tspan><tspan x="751">100</tspan></text>
<use href="#q" x="271"/><use href="#q" x="511"/><use href="#q" x="751"/><text class="tp" y="-20.5"><tspan x="277">=165</tspan><tspan x="517">=168</tspan><tspan x="757">=172</tspan></text>
<text class="s1" y="76"><tspan x="270.5">400</tspan><tspan x="510.5">400</tspan><tspan x="750.5">375</tspan><tspan x="990.5">375</tspan></text>
<text class="s2" y="89"><tspan x="270.5">144038</tspan><tspan x="510.5">147238</tspan><tspan x="750.5">150238</tspan><tspan x="990.5">153238</tspan></text>
<text class="s3" y="102"><tspan x="270.5">50.00%</tspan><tspan x="510.5">38.20%</tspan><tspan x="750.5">25.70%</tspan><tspan x="990.5">13.20%</tspan></text>
</g>

<g id="row26" transform="translate(0,3730.5)">
<use href="#st4"/>
<path class="nr" d="M481 15H496H511H541H571H601H631H661"/>
<path class="ny" d="M31 30H61H91H121H151H181H211H241H256H271H301H331H361H391H421H451H511H541H571H601H631H661H931H961H976"/>
<path class="nb" d="M31 45H61H91H121H151H181H211H691H721H736H751H781H811H841H871H901"/>
<path class="no" d="M271 60H301H331H361H391H421H451H751H781H811H841H871H901"/>
<rect class="po" x="31" y="-0.75" width="253" height="61.5"/>
<rect class="pp" x="284" y="-0.75" width="17" height="61.5"/>
<text class="mn" y="-8"><tspan x="31">101</tspan><tspan x="271">102</tspan><tspan x="511">103</tspan><tspan x="751">104</tspan></text>
<use href="#q" x="31"/><use href="#q" x="271"/><use href="#q" x="511"/><use href="#q" x="751"/><text class="tp" y="-20.5"><tspan x="37">=170</tspan><tspan x="277">=168</tspan><tspan x="517">=167</tspan><tspan x="757">=168</tspan></text>
<text class="s1" y="76"><tspan x="270.5">400</tspan><tspan x="510.5">400</tspan><tspan x="750.5">375</tspan><tspan x="990.5">375</tspan></text>
<text class="s2" y="89"><tspan x="270.5">156438</tspan><tspan x="510.5">158438</tspan><tspan x="750.5">159938</tspan><tspan x="990.5">161438</tspan></text>
<text class="s3" y="102"><tspan x="270.5">0.70%</tspan><tspan x="510.5">0.00%</tspan><tspan x="750.5">0.00%</tspan><tspan x="990.5">0.00%</tspan></text>
</g>

<g id="row27" transform="translate(0,3871.5)">
<path class="bn" d="M31 -10h180v10h-180zM31 60h180v10h-180z"/>
<use href="#st4"/>
<path class="ky" d="M31 30H61H91H121H151H181H211"/>
<path class="kb" d="M31 45H61H91H121H151H181"/>
<path class="kr" d="M211 15h0"/>
<path class="nr" d="M481 15H511H541H571H601H631H661"/>
<path class="ny" d="M271 30H286H301H316H331H361H391H421H451H511H541H571H601H631H661H931H961H976"/>
<path class="nb" d="M691 45H721H736H751H781H811H841H871H901"/>
<path class="no" d="M271 60H286H301H316H331H361H391H421H451H751H781H811H841H871H901"/>
<rect class="ps" x="31" y="-0.75" width="180" height="61.5"/>
<text class="mn" y="-8"><tspan x="31">105</tspan><tspan x="271">106</tspan><tspan x="511">107</tspan><tspan x="751">108</tspan></text>
<use href="#q" x="31"/><use href="#q" x="271"/><use href="#q" x="511"/><use href="#q" x="751"/><text class="tp" y="-20.5"><tspan x="37">=168</tspan><tspan x="277">=166</tspan><tspan x="517">=169</tspan><tspan x="757">=167</tspan></text>
<text class="s1" y="76"><tspan x="270.5">350</tspan><tspan x="510.5">475</tspan><tspan x="750.5">375</tspan><tspan x="990.5">375</tspan></text>
<text class="s2" y="89"><tspan x="270.5">162838</tspan><tspan x="510.5">164738</tspan><tspan x="750.5">166238</tspan><tspan x="990.5">167738</tspan></text>
<text class="s3" y="102"><tspan x="270.5">25.00%</tspan><tspan x="510.5">25.00%</tspan><tspan x="750.5">25.00%</tspan><tspan x="990.5">25.00%</tspan></text>
</g>

<g id="row28" transform="translate(0,4012.5)">
<use href="#st4"/>
<path class="nr" d="M451 15H481H511H541H571H601H631H661"/>
<path class="ny" d="M31 30H61H91H121H151H181H211H241H256H271H301H331H361H391H421H511H541H571H601H631H661H931H961H976"/>
<path class="nb" d="M31 45H61H91H121H151H181H211H691H721H736H751H781H811H841H871H901"/>
<path class="no" d="M271 60H301H331H361H391H421H751H781H811H841H871H901"/>
<text class="mn" y="-8"><tspan x="31">109</tspan><tspan x="271">110</tspan><tspan x="511">111</tspan><tspan x="751">112</tspan></text>
<use href="#q" x="31"/><use href="#q" x="271"/><use href="#q" x="511"/><use href="#q" x="751"/><text class="tp" y="-20.5"><tspan x="37">=168</tspan><tspan x="277">=170</tspan><tspan x="517">=165</tspan><tspan x="757">=169</tspan></text>
<text class="s1" y="76"><tspan x="270.5">400</tspan><tspan x="510.5">350</tspan><tspan x="750.5">375</tspan><tspan x="990.5">375</tspan></text>
<text class="s2" y="89"><tspan x="270.5">169338</tspan><tspan x="510.5">170738</tspan><tspan x="750.5">172238</tspan><tspan x="990.5">173738</tspan></text>
<text class="s3" y="102"><tspan x="270.5">25.00%</tspan><tspan x="510.5">25.00%</tspan><tspan x="750.5">25.00%</tspan><tspan x="990.5">25.00%</tspan></text>
</g>

<g id="row29" transform="translate(0,4153.5)">
<use href="#st4"/>
<path class="nr" d="M481 15H496H511H541H571H601H631H661"/>
<path class="ny" d="M31 30H61H91H121H151H181H211H241H256H271H301H331H361H391H421H451H511H541H571H601H631H661H931H961H976"/>
<path class="nb" d="M31 45H61H91H121H151H181H211H691H721H736H751H781H811H841H871H901"/>
<path class="no" d="M271 60H301H331H361H391H421H451H751H781H811H841H871H901"/>
<text class="mn" y="-8"><tspan x="31">113</tspan><tspan x="271">114</tspan><tspan x="511">115</tspan><tspan x="751">116</tspan></text>
<use href="#q" x="31"/><use href="#q" x="271"/><use href="#q" x="751"/><text class="tp" y="-20.5"><tspan x="37">=168</tspan><tspan x="277">=168</tspan><tspan x="757">=166</tspan></text>
<text class="s1" y="76"><tspan x="270.5">400</tspan><tspan x="510.5">400</tspan><tspan x="750.5">375</tspan><tspan x="990.5">375</tspan></text>
<text class="s2" y="89"><tspan x="270.5">175338</tspan><tspan x="510.5">176938</tspan><tspan x="750.5">178438</tspan><tspan x="990.5">179938</tspan></text>
<text class="s3" y="102"><tspan x="270.5">25.00%</tspan><tspan x="510.5">25.00%</tspan><tspan x="750.5">25.00%</tspan><tspan x="990.5">25.00%</tspan></text>
</g>

<g id="row30" transform="translate(0,4294.5)">
<use href="#st4"/>
<path class="ur" d="M511 15H556"/>
<path class="uy" d="M511 30H556"/>
<path class="nr" d="M451 15H481H496H511H571H601H631H661"/>
<path class="ny" d="M31 30H61H91H121H151H181H211H241H256H271H301H331H361H391H421H511H571H601H631H661H931H961H976"/>
<path class="nb" d="M31 45H61H91H121H151H181H211H691H721H736H751H781H811H841H871H901"/>
<path class="no" d="M271 60H301H331H361H391H421H751H781H811H841H871H901"/>
<rect class="pp" x="751" y="-0.75" width="13" height="61.5"/>
<rect class="po" x="764" y="-0.75" width="227" height="61.5"/>
<text class="mn" y="-8"><tspan x="31">117</tspan><tspan x="271">118</tspan><tspan x="511">119</tspan><tspan x="751">120</tspan></text>
<use href="#q" x="31"/><use href="#q" x="271"/><use href="#q" x="511"/><use href="#q" x="751"/><text class="tp" y="-20.5"><tspan x="37">=169</tspan><tspan x="277">=165</tspan><tspan x="517">=168</tspan><tspan x="757">=168</tspan></text>
<text class="s1" y="76"><tspan x="270.5">400</tspan><tspan x="510.5">375</tspan><tspan x="750.5">343</tspan><tspan x="990.5">375</tspan></text>
<text class="s2" y="89"><tspan x="270.5">181538</tspan><tspan x="510.5">183038</tspan><tspan x="750.5">184410</tspan><tspan x="990.5">187410</tspan></text>
<text class="s3" y="102"><tspan x="270.5">25.00%</tspan><tspan x="510.5">25.00%</tspan><tspan x="750.5">25.00%</tspan><tspan x="990.5">13.20%</tspan></text>
</g>

<g id="row31" transform="translate(0,4435.5)">
<use href="#st4"/>
<path class="nr" d="M451 15H481H511H541H571H601H631H661"/>
<path class="ny" d="M31 30H61H91H121H151H166H181H196H211H226H241H256H271H301H331H361H391H421H511H541H571H601H631H661H931H961H976"/>
<path class="nb" d="M31 45H61H91H121H151H166H181H196H211H226H241H256H691H721H736H751H781H811H841H871H901"/>
<path class="no" d="M271 60H301H331H361H391H421H751H781H811H841H871H901"/>
<rect class="po" x="31" y="-0.75" width="733" height="61.5"/>
<rect class="pp" x="764" y="-0.75" width="16" height="61.5"/>
<text class="mn" y="-8"><tspan x="31">121</tspan><tspan x="271">122</tspan><tspan x="511">123</tspan><tspan x="751">124</tspan></text>
<use href="#q" x="31"/><use href="#q" x="271"/><use href="#q" x="511"/><use href="#q" x="751"/><text class="tp" y="-20.5"><tspan x="37">=171</tspan><tspan x="277">=167</tspan><tspan x="517">=167</tspan><tspan x="757">=168</tspan></text>
<text class="s1" y="76"><tspan x="270.5">600</tspan><tspan x="510.5">350</tspan><tspan x="750.5">375</tspan><tspan x="990.5">375</tspan></text>
<text class="s2" y="89"><tspan x="270.5">192210</tspan><tspan x="510.5">195010</tspan><tspan x="750.5">198010</tspan><tspan x="990.5">199910</tspan></text>
<text class="s3" y="102"><tspan x="270.5">0.70%</tspan><tspan x="510.5">0.00%</tspan><tspan x="750.5">0.00%</tspan><tspan x="990.5">0.00%</tspan></text>
</g>

<g id="row32" transform="translate(0,4576.5)">
<use href="#st4"/>
<path class="uy" d="M271 30H991"/>
<path class="uo" d="M271 60H991"/>
<path class="ny" d="M31 30H61H91H121H151H181H211H241H256H271"/>
<path class="nb" d="M31 45H61H91H121H151H181H211"/>
<path class="no" d="M271 60h0"/>
<text class="mn" y="-8"><tspan x="31">125</tspan><tspan x="271">126</tspan><tspan x="511">127</tspan><tspan x="751">128</tspan></text>
<use href="#q" x="31"/><text class="tp" y="-20.5"><tspan x="37">=167</tspan></text>
<text class="s1" y="76"><tspan x="270.5">400</tspan><tspan x="510.5">146</tspan><tspan x="750.5">96</tspan><tspan x="990.5">96</tspan></text>
<text class="s2" y="89"><tspan x="270.5">201510</tspan><tspan x="510.5">202094</tspan><tspan x="750.5">202478</tspan><tspan x="990.5">202862</tspan></text>
<text class="s3" y="102"><tspan x="270.5">0.00%</tspan><tspan x="510.5">0.00%</tspan><tspan x="750.5">0.00%</tspan><tspan x="990.5">0.00%</tspan></text>
</g>

<g id="row33" transform="translate(0,4717.5)">
<use href="#st1"/>
<path class="uy" d="M31 30H211"/>
<path class="uo" d="M31 60H211"/>
<text class="mn" y="-8"><tspan x="31">129</tspan></text>
<text class="s1" y="76"><tspan x="270.5">72</tspan></text>
<text class="s2" y="89"><tspan x="270.5">203150</tspan></text>
<text class="s3" y="102"><tspan x="270.5">0.00%</tspan></text>
</g>
</g>
</svg>
